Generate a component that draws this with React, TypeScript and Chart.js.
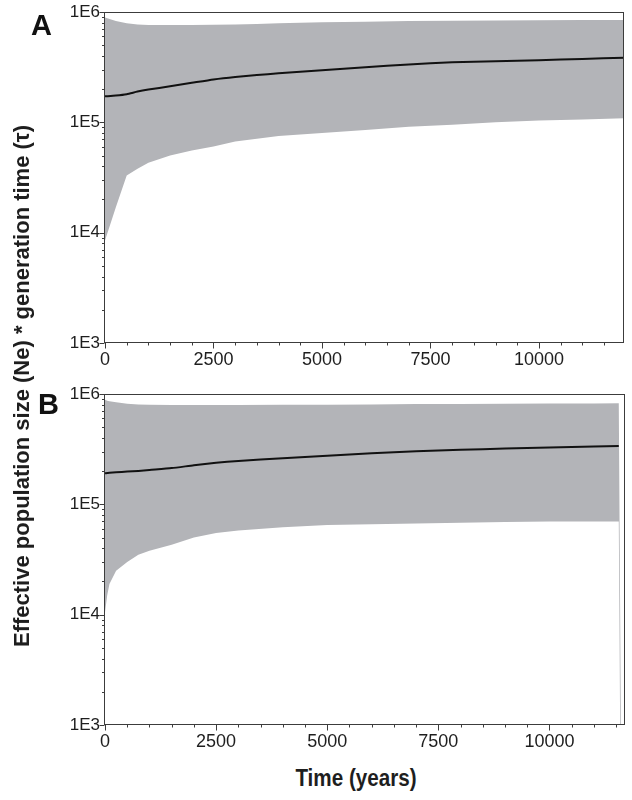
import React, { useEffect, useRef } from "react";
import { Chart, registerables } from "chart.js";

Chart.register(...registerables);

// ---------- data ----------
const timesA = [0, 250, 500, 750, 1000, 1500, 2000, 2500, 3000, 3500, 4000, 5000, 6000, 7000, 8000, 9000, 10000, 11000, 11960];
const medianA = [172000, 175000, 180000, 190000, 198000, 212000, 228000, 245000, 258000, 268000, 278000, 297000, 315000, 335000, 350000, 358000, 366000, 375000, 385000];
const upperA = [890000, 830000, 790000, 770000, 762000, 762000, 763000, 765000, 772000, 780000, 790000, 808000, 818000, 828000, 834000, 838000, 842000, 845000, 848000];
const lowerA = [8500, 17000, 33000, 38000, 43000, 50000, 55600, 60500, 67000, 71000, 75000, 80000, 85000, 91000, 95000, 100000, 104000, 106000, 109000];

const timesB = [0, 50, 100, 250, 500, 750, 1000, 1500, 2000, 2500, 3000, 4000, 5000, 6000, 7000, 8000, 9000, 10000, 11000, 11560, 11640];
const medianB = [191000, 192000, 193000, 195000, 198000, 201000, 205000, 213000, 226000, 238000, 247000, 262000, 276000, 290000, 302000, 312000, 320000, 327000, 334000, 337000];
const upperB = [885000, 870000, 860000, 840000, 815000, 805000, 800000, 795000, 793000, 793000, 794000, 797000, 800000, 805000, 810000, 813000, 816000, 819000, 822000, 825000, 10];
const lowerB = [10500, 15000, 19000, 25000, 30000, 35000, 38000, 43000, 50000, 55000, 58000, 62000, 65000, 66000, 67000, 68000, 69000, 70000, 70000, 70000, 1];

const yTicks = [
  1000, 2000, 3000, 4000, 5000, 6000, 7000, 8000, 9000,
  10000, 20000, 30000, 40000, 50000, 60000, 70000, 80000, 90000,
  100000, 200000, 300000, 400000, 500000, 600000, 700000, 800000, 900000,
  1000000,
];
const yMajorLabels: Record<number, string> = { 1000: "1E3", 10000: "1E4", 100000: "1E5", 1000000: "1E6" };
const xTicks = [0, 500, 1000, 1500, 2000, 2500, 3000, 3500, 4000, 4500, 5000, 5500, 6000, 6500, 7000, 7500, 8000, 8500, 9000, 9500, 10000, 10500, 11000, 11500];
const xMajorLabels: Record<number, string> = { 0: "0", 2500: "2500", 5000: "5000", 7500: "7500", 10000: "10000" };

const xMaxA = 11960;
const xMaxB = 11700;

// ---------- styling ----------
const FONT = "'Liberation Sans', Arial, Helvetica, sans-serif";
const BAND = "#b3b4b8";
const AXIS = "#3c3c3c";
const TEXT = "#1e1e1e";

const frameTicksPlugin = {
  id: "frameTicks",
  afterDraw(chart: any) {
    const { ctx, chartArea: a, scales } = chart;
    ctx.save();
    ctx.strokeStyle = AXIS;
    ctx.lineWidth = 1;
    const l = Math.round(a.left) - 0.5;
    const t = Math.round(a.top) + 0.5;
    const r = Math.round(a.right) - 0.5;
    const b = Math.round(a.bottom) - 0.5;
    ctx.strokeRect(l, t, r - l, b - t);
    ctx.beginPath();
    scales.y.ticks.forEach((tk: any) => {
      const py = Math.round(scales.y.getPixelForValue(tk.value)) + 0.5;
      const len = yMajorLabels[tk.value] ? 5 : 2.5;
      ctx.moveTo(l - len, py);
      ctx.lineTo(l, py);
    });
    scales.x.ticks.forEach((tk: any) => {
      const px = Math.round(scales.x.getPixelForValue(tk.value)) + 0.5;
      const len = xMajorLabels[tk.value] !== undefined ? 6 : 3;
      ctx.moveTo(px, b);
      ctx.lineTo(px, b + len);
    });
    ctx.stroke();
    ctx.restore();
  },
};

function makeConfig(times: number[], med: number[], up: number[], lo: number[], xMax: number, rightPad: number): any {
  const medPts = med.map((v, i) => ({ x: times[i], y: v }));
  const upPts = up.map((v, i) => ({ x: times[i], y: v }));
  const loPts = lo.map((v, i) => ({ x: times[i], y: v }));
  return {
    type: "line",
    data: {
      datasets: [
        { data: medPts, borderColor: "#111111", borderWidth: 2, pointRadius: 0, fill: false, tension: 0.2 },
        { data: upPts, borderColor: "rgba(0,0,0,0)", borderWidth: 1, pointRadius: 0, fill: "+1", backgroundColor: BAND, tension: 0 },
        { data: loPts, borderColor: "rgba(0,0,0,0)", borderWidth: 1, pointRadius: 0, fill: false, tension: 0 },
      ],
    },
    options: {
      responsive: false,
      maintainAspectRatio: false,
      devicePixelRatio: 1,
      animation: false,
      layout: { padding: { top: 12, right: rightPad, left: 0, bottom: 0 } },
      plugins: { legend: { display: false }, tooltip: { enabled: false } },
      scales: {
        x: {
          type: "linear",
          min: 0,
          max: xMax,
          afterBuildTicks: (s: any) => {
            s.ticks = xTicks.map((v) => ({ value: v }));
          },
          afterFit: (s: any) => {
            s.height = 29;
          },
          ticks: {
            autoSkip: false,
            maxRotation: 0,
            minRotation: 0,
            padding: 1,
            color: TEXT,
            font: { family: FONT, size: 18 },
            callback: (v: any) => (xMajorLabels[v] !== undefined ? xMajorLabels[v] : ""),
          },
          grid: { display: true, drawOnChartArea: false, drawTicks: true, tickLength: 5, color: "rgba(0,0,0,0)" },
          border: { display: false },
        },
        y: {
          type: "logarithmic",
          min: 1000,
          max: 1000000,
          afterBuildTicks: (s: any) => {
            s.ticks = yTicks.map((v) => ({ value: v }));
          },
          afterFit: (s: any) => {
            s.width = 105;
          },
          ticks: {
            autoSkip: false,
            padding: 0,
            color: TEXT,
            font: { family: FONT, size: 17 },
            callback: (v: any) => yMajorLabels[v] || "",
          },
          grid: { display: true, drawOnChartArea: false, drawTicks: true, tickLength: 5, color: "rgba(0,0,0,0)" },
          border: { display: false },
        },
      },
    },
    plugins: [frameTicksPlugin],
  };
}

function Panel({ top, cfg }: { top: number; cfg: () => any }) {
  const ref = useRef<HTMLCanvasElement | null>(null);
  useEffect(() => {
    if (!ref.current) return;
    const chart = new Chart(ref.current, cfg());
    return () => chart.destroy();
  }, []);
  return <canvas ref={ref} width={632} height={372} style={{ position: "absolute", left: 0, top, width: 632, height: 372 }} />;
}

export default function App() {
  const letter: React.CSSProperties = {
    position: "absolute",
    fontFamily: FONT,
    fontWeight: "bold",
    fontSize: 29,
    lineHeight: "29px",
    color: "#111",
  };
  return (
    <div style={{ position: "absolute", left: 0, top: 0, width: 632, height: 800, background: "#fff", overflow: "hidden" }}>
      <Panel top={0} cfg={() => makeConfig(timesA, medianA, upperA, lowerA, xMaxA, 8)} />
      <Panel top={382} cfg={() => makeConfig(timesB, medianB, upperB, lowerB, xMaxB, 7)} />
      <div style={{ ...letter, left: 31, top: 11 }}>A</div>
      <div style={{ ...letter, left: 38, top: 390 }}>B</div>
      <div
        style={{
          position: "absolute",
          left: 22,
          top: 386,
          transform: "translate(-50%, -50%) rotate(-90deg)",
          whiteSpace: "nowrap",
          fontFamily: FONT,
          fontWeight: "bold",
          fontSize: 22,
          color: TEXT,
        }}
      >
        Effective population size (Ne) * generation time (τ)
      </div>
      <div
        style={{
          position: "absolute",
          left: 356,
          top: 778,
          transform: "translate(-50%, -50%) scaleX(0.86)",
          whiteSpace: "nowrap",
          fontFamily: FONT,
          fontWeight: "bold",
          fontSize: 24,
          color: TEXT,
        }}
      >
        Time (years)
      </div>
    </div>
  );
}
